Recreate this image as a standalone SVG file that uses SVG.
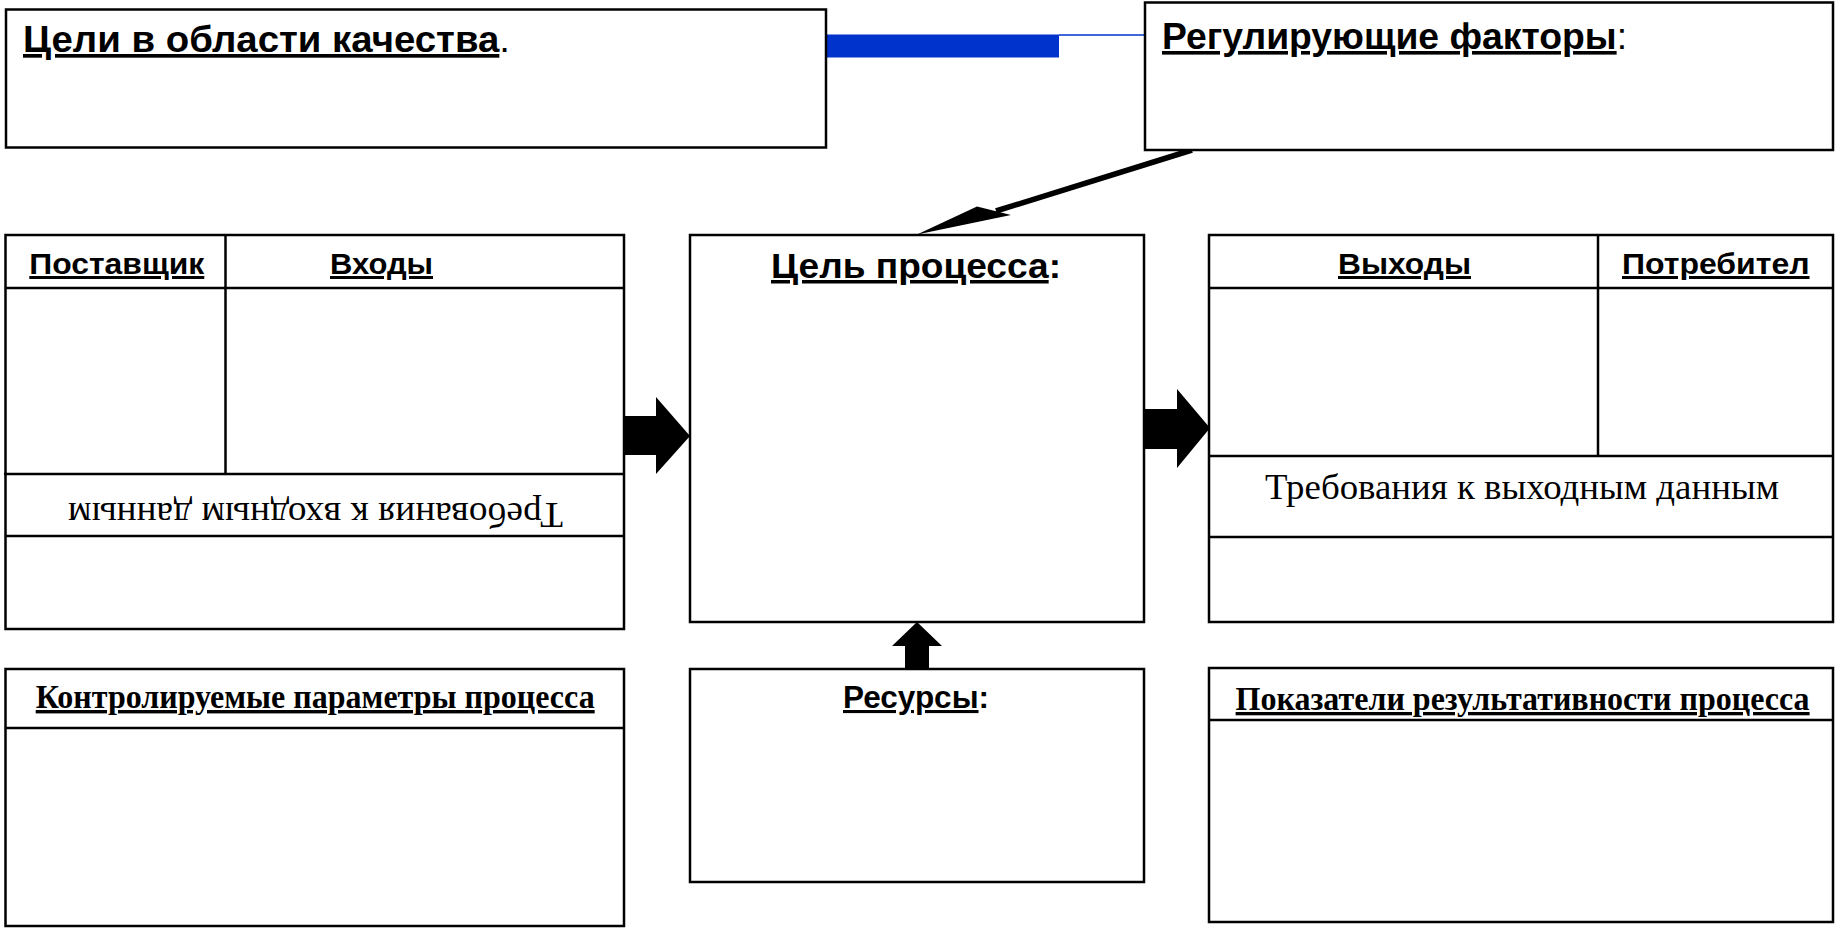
<svg xmlns="http://www.w3.org/2000/svg" width="1835" height="930" viewBox="0 0 1835 930">
<style>
.box{fill:#fff;stroke:#000;stroke-width:2.5}
.ln{stroke:#000;stroke-width:2.5;fill:none}
.blk{fill:#000;stroke:none}
.sans{font-family:"Liberation Sans",Arial,sans-serif;font-weight:bold;fill:#000}
.serif{font-family:"Liberation Serif","Times New Roman",serif;fill:#000}
.u{text-decoration:underline}
.nb{font-weight:normal;text-decoration:none}
</style>
<rect width="1835" height="930" fill="#fff"/>

<g id="connectors">
  <rect x="826" y="34.5" width="233" height="23" fill="#0033cc"/>
  <line x1="1059" y1="35" x2="1145" y2="35" stroke="#0033cc" stroke-width="1.5"/>
  <line x1="1192" y1="150" x2="996" y2="211" stroke="#000" stroke-width="5.5"/>
  <polygon class="blk" points="917,234.5 977,206.5 1011,215"/>
  <polygon class="blk" points="624,416 656,416 656,397 690,436 656,474 656,455 624,455"/>
  <polygon class="blk" points="1144,409 1177,409 1177,389 1210,428 1177,468 1177,449 1144,449"/>
  <polygon class="blk" points="905,668 905,646 892,646 917,622 942,646 929,646 929,668"/>
</g>

<g id="goals">
  <rect class="box" x="6" y="9.5" width="820" height="138"/>
  <text class="sans" x="23" y="52" font-size="37" textLength="487" lengthAdjust="spacingAndGlyphs"><tspan class="u">Цели в области качества</tspan><tspan class="nb">.</tspan></text>
</g>

<g id="regulating">
  <rect class="box" x="1145" y="2.5" width="688" height="147.5"/>
  <text class="sans" x="1162" y="49" font-size="36" textLength="465" lengthAdjust="spacingAndGlyphs"><tspan class="u">Регулирующие факторы</tspan><tspan class="nb">:</tspan></text>
</g>

<g id="inputs">
  <rect class="box" x="5.5" y="235" width="618.5" height="394"/>
  <line class="ln" x1="5.5" y1="288" x2="624" y2="288"/>
  <line class="ln" x1="225.5" y1="235" x2="225.5" y2="474"/>
  <line class="ln" x1="4" y1="474" x2="625" y2="474"/>
  <line class="ln" x1="5.5" y1="536" x2="624" y2="536"/>
  <text class="sans u" x="29.3" y="274" font-size="30" textLength="175" lengthAdjust="spacingAndGlyphs">Поставщик</text>
  <text class="sans u" x="330" y="274" font-size="30" textLength="103" lengthAdjust="spacingAndGlyphs">Входы</text>
  <text class="serif" x="315.5" y="503" font-size="36" text-anchor="middle" textLength="495" lengthAdjust="spacingAndGlyphs" transform="rotate(180 315.5 503)">Требования к входным данным</text>
</g>

<g id="process">
  <rect class="box" x="690" y="235" width="454" height="387"/>
  <text class="sans" x="771" y="278" font-size="35" textLength="290" lengthAdjust="spacingAndGlyphs"><tspan class="u">Цель процесса</tspan><tspan>:</tspan></text>
</g>

<g id="outputs">
  <rect class="box" x="1209" y="235" width="624" height="387"/>
  <line class="ln" x1="1209" y1="288" x2="1833" y2="288"/>
  <line class="ln" x1="1598" y1="235" x2="1598" y2="456"/>
  <line class="ln" x1="1209" y1="456" x2="1833" y2="456"/>
  <line class="ln" x1="1209" y1="537" x2="1833" y2="537"/>
  <text class="sans u" x="1338" y="274" font-size="30" textLength="133" lengthAdjust="spacingAndGlyphs">Выходы</text>
  <text class="sans u" x="1622" y="274" font-size="30" textLength="187.5" lengthAdjust="spacingAndGlyphs">Потребител</text>
  <text class="serif" x="1265" y="498.5" font-size="36" textLength="514" lengthAdjust="spacingAndGlyphs">Требования к выходным данным</text>
</g>

<g id="controlled">
  <rect class="box" x="5.5" y="669" width="618.5" height="257"/>
  <line class="ln" x1="5.5" y1="728" x2="624" y2="728"/>
  <text class="serif u" x="35.7" y="708" font-size="34" font-weight="bold" textLength="559" lengthAdjust="spacingAndGlyphs">Контролируемые параметры процесса</text>
</g>

<g id="resources">
  <rect class="box" x="690" y="669" width="454" height="213"/>
  <text class="sans" x="843" y="708" font-size="31" textLength="146" lengthAdjust="spacingAndGlyphs"><tspan class="u">Ресурсы</tspan><tspan>:</tspan></text>
</g>

<g id="indicators">
  <rect class="box" x="1209" y="668" width="624" height="254"/>
  <line class="ln" x1="1209" y1="720" x2="1833" y2="720"/>
  <text class="serif u" x="1235.6" y="710" font-size="33" font-weight="bold" textLength="574" lengthAdjust="spacingAndGlyphs">Показатели результативности процесса</text>
</g>
</svg>
